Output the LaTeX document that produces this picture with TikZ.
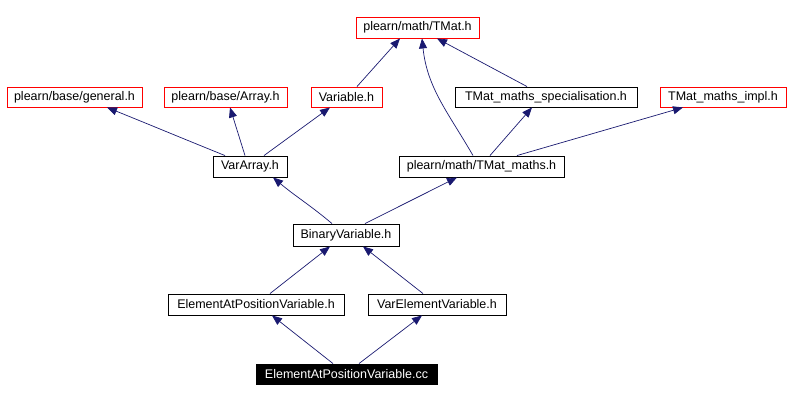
\documentclass[tikz,border=0pt]{standalone}
\usepackage{fontspec}
\setmainfont{Liberation Sans}
\usetikzlibrary{arrows.meta}
\definecolor{edgecol}{HTML}{191970}
\tikzset{
  filebox/.style={draw=black, line width=0.9pt, rectangle, inner sep=0pt, minimum height=20pt,
    font=\fontsize{12.5}{14}\selectfont, text=black},
  extbox/.style={filebox, draw=red},
  rootbox/.style={filebox, fill=black, text=white},
  dep/.style={draw=edgecol, line width=0.7pt, -{Triangle[length=10pt,width=8pt]}},
}
\begin{document}
\begin{tikzpicture}[x=1pt,y=-1pt]
\useasboundingbox (0,0) rectangle (790,401);
\node[extbox, minimum width=123pt, minimum height=21pt] (tmat) at (417.5,27.5) {plearn/math/TMat.h};
\node[extbox, minimum width=135pt] (general) at (74.5,97) {plearn/base/general.h};
\node[extbox, minimum width=123pt] (array) at (225.5,97) {plearn/base/Array.h};
\node[extbox, minimum width=71pt] (variable) at (346.5,97) {Variable.h};
\node[filebox, minimum width=182pt] (spec) at (546,97) {TMat\_maths\_specialisation.h};
\node[extbox, minimum width=126pt] (impl) at (723,97) {TMat\_maths\_impl.h};
\node[filebox, minimum width=74pt, minimum height=21pt] (vararray) at (250,166.5) {VarArray.h};
\node[filebox, minimum width=165pt, minimum height=21pt] (tmaths) at (481.5,166.5) {plearn/math/TMat\_maths.h};
\node[filebox, minimum width=106pt, minimum height=22pt] (binary) at (346,235) {BinaryVariable.h};
\node[filebox, minimum width=176pt, minimum height=21pt] (eapvh) at (256,304.5) {ElementAtPositionVariable.h};
\node[filebox, minimum width=138pt, minimum height=21pt] (varelem) at (437,304.5) {VarElementVariable.h};
\node[rootbox, minimum width=181pt] (cc) at (346.5,374) {ElementAtPositionVariable.cc};

\draw[dep] ([xshift=-25pt]vararray.north) to[out=158,in=-22] ([xshift=32.5pt]general.south);
\draw[dep] ([xshift=-5pt]vararray.north) -- ([xshift=4.5pt]array.south);
\draw[dep] ([xshift=14pt]vararray.north) -- ([xshift=-16.5pt]variable.south);
\draw[dep] ([xshift=10.5pt]variable.north) -- ([xshift=-17.5pt]tmat.south);
\draw[dep] ([xshift=-8.5pt]tmaths.north) to[out=120,in=-84] ([xshift=4.5pt]tmat.south);
\draw[dep] ([xshift=8.5pt]tmaths.north) -- ([xshift=-14pt]spec.south);
\draw[dep] ([xshift=35.5pt]tmaths.north) -- ([xshift=-40pt]impl.south);
\draw[dep] ([xshift=-19pt]spec.north) -- ([xshift=19.5pt]tmat.south);
\draw[dep] ([xshift=-14pt]binary.north) to[out=140,in=-40] ([xshift=23pt]vararray.south);
\draw[dep] ([xshift=19pt]binary.north) -- ([xshift=-24.5pt]tmaths.south);
\draw[dep] ([xshift=14pt]eapvh.north) -- ([xshift=-16pt]binary.south);
\draw[dep] ([xshift=-14pt]varelem.north) -- ([xshift=17pt]binary.south);
\draw[dep] ([xshift=-13.5pt]cc.north) -- ([xshift=16pt]eapvh.south);
\draw[dep] ([xshift=12.5pt]cc.north) -- ([xshift=-15pt]varelem.south);
\end{tikzpicture}
\end{document}
